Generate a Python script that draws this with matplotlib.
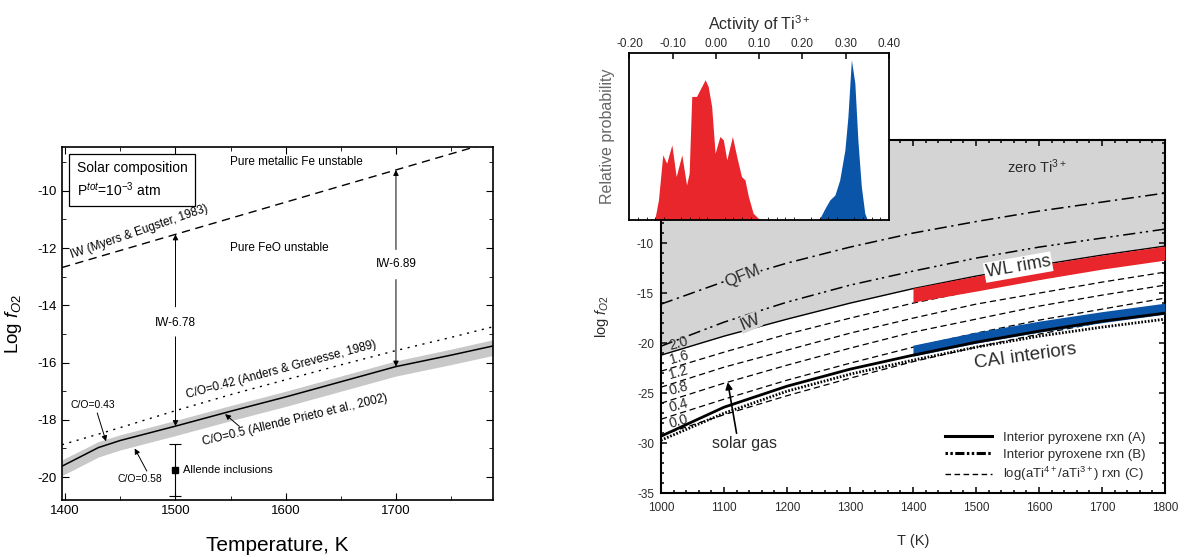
import numpy as np
import matplotlib
matplotlib.use("Agg")
import matplotlib.pyplot as plt
from matplotlib.lines import Line2D
from matplotlib.ticker import MultipleLocator, FixedLocator

plt.rcParams.update({
    "font.family": ["Liberation Sans", "DejaVu Sans"],
    "mathtext.fontset": "custom",
    "mathtext.rm": "Liberation Sans",
    "mathtext.it": "Liberation Sans:italic",
    "axes.linewidth": 1.2,
    "axes.unicode_minus": False,
})

# ---------------- left panel: solar gas fO2 vs T ----------------
T_left   = [1397, 1430, 1450, 1500, 1550, 1600, 1650, 1700, 1750, 1788]
co_050   = [-19.62, -18.97, -18.72, -18.22, -17.70, -17.20, -16.67, -16.14, -15.74, -15.42]
band_hi  = [-19.40, -18.76, -18.52, -18.02, -17.50, -17.00, -16.47, -15.94, -15.53, -15.20]
band_lo  = [-19.95, -19.30, -19.05, -18.55, -18.03, -17.53, -17.00, -16.47, -16.07, -15.75]
co_042   = [-18.87, -18.50, -18.27, -17.68, -17.12, -16.60, -16.08, -15.58, -15.12, -14.75]
iw_T     = [1397, 1788]
iw_myers = [-12.68, -8.28]
allende_T, allende_f, allende_lo, allende_hi = 1500, -19.75, -20.65, -18.85

# ---------------- right panel: Ti3+ oxybarometry ----------------
T_main  = [1000, 1100, 1200, 1300, 1400, 1500, 1600, 1700, 1800]
qfm     = [-16.1, -13.85, -12.0, -10.4, -9.0, -7.85, -6.8, -5.9, -5.0]
iw      = [-20.3, -17.9, -15.9, -14.2, -12.8, -11.5, -10.4, -9.5, -8.6]
rxn_A   = [-29.3, -26.4, -24.3, -22.6, -21.2, -19.9, -18.8, -17.8, -17.0]
rxn_B   = [-29.7, -27.0, -24.8, -23.1, -21.7, -20.4, -19.3, -18.4, -17.6]
c_vals  = ["2.0", "1.6", "1.2", "0.8", "0.4", "0.0"]
c_lines = [
    [-21.2, -19.3, -17.6, -16.0, -14.55, -13.3, -12.2, -11.2, -10.3],
    [-22.8, -20.9, -19.1, -17.5, -16.0, -14.7, -13.6, -12.5, -11.6],
    [-24.4, -22.4, -20.7, -19.0, -17.5, -16.1, -15.0, -13.9, -12.9],
    [-26.0, -24.0, -22.2, -20.5, -18.9, -17.6, -16.3, -15.2, -14.2],
    [-27.6, -25.6, -23.7, -22.0, -20.4, -19.0, -17.7, -16.6, -15.5],
    [-29.2, -27.15, -25.25, -23.5, -21.85, -20.4, -19.1, -17.9, -16.8],
]
c_label_f = [-20.0, -21.4, -22.9, -24.5, -26.2, -27.8]
band_T   = [1400, 1500, 1600, 1700, 1800]
wl_top   = [-14.5, -13.3, -12.2, -11.2, -10.3]
wl_bot   = [-15.9, -14.8, -13.65, -12.6, -11.7]
cai_top  = [-20.2, -18.9, -17.8, -16.85, -16.0]
cai_bot  = [-21.3, -20.0, -18.9, -17.95, -17.1]

# inset: activity of Ti3+
red_x = [-0.145, -0.141, -0.133, -0.123, -0.114, -0.102, -0.092, -0.079, -0.068, -0.062,
         -0.056, -0.045, -0.037, -0.025, -0.018, -0.010, -0.002, 0.009, 0.017, 0.025,
         0.038, 0.048, 0.059, 0.067, 0.075, 0.086, 0.098, 0.105]
red_y = [0.0, 0.01, 0.12, 0.39, 0.34, 0.45, 0.26, 0.39, 0.21, 0.28,
         0.74, 0.74, 0.78, 0.84, 0.80, 0.68, 0.40, 0.50, 0.48, 0.36,
         0.50, 0.38, 0.26, 0.24, 0.14, 0.04, 0.01, 0.0]
blue_x = [0.235, 0.240, 0.252, 0.263, 0.275, 0.286, 0.298, 0.305, 0.313, 0.321, 0.328, 0.336, 0.344, 0.350]
blue_y = [0.0, 0.01, 0.07, 0.12, 0.15, 0.24, 0.42, 0.62, 0.96, 0.82, 0.48, 0.20, 0.04, 0.0]

fig = plt.figure(figsize=(11.89, 5.55), dpi=100)

# =========================== left ===========================
ax = fig.add_axes([0.0521, 0.0991, 0.3625, 0.636])
ax.fill_between(T_left, band_lo, band_hi, color="#c8c8c8", lw=0, zorder=1)
ax.plot(T_left, co_050, color="k", lw=1.1, zorder=3)
ax.plot(T_left, co_042, color="k", lw=1.0, ls=(0, (1.5, 4)), zorder=3)
ax.plot(iw_T, iw_myers, color="k", lw=1.0, ls=(0, (6, 4)), zorder=3)
ax.errorbar([allende_T], [allende_f],
            yerr=[[allende_f - allende_lo], [allende_hi - allende_f]],
            fmt="s", color="k", ms=5, capsize=4, elinewidth=0.8, capthick=0.8)
ax.text(1507, allende_f, "Allende inclusions", fontsize=8, va="center")

ax.set_xlim(1397, 1788)
ax.set_ylim(-20.8, -8.47)
ax.xaxis.set_major_locator(FixedLocator([1400, 1500, 1600, 1700]))
ax.xaxis.set_minor_locator(MultipleLocator(50))
ax.yaxis.set_major_locator(MultipleLocator(2))
ax.yaxis.set_minor_locator(MultipleLocator(1))
ax.tick_params(which="both", direction="in", top=True, right=True, labelsize=9.5)
ax.tick_params(which="major", length=5)
ax.tick_params(which="minor", length=3)
ax.set_xlabel("Temperature, K", fontsize=15, labelpad=14)
ax.set_ylabel("Log $f_{O2}$", fontsize=13.5)
ax.yaxis.set_label_coords(-0.088, 0.5)

arw = dict(arrowstyle="-|>", lw=0.7, color="k", mutation_scale=8, shrinkA=0, shrinkB=0)
ax.text(1500, -14.6, "IW-6.78", fontsize=8.5, ha="center", va="center")
ax.annotate("", xy=(1500, -11.52), xytext=(1500, -14.05), arrowprops=arw)
ax.annotate("", xy=(1500, -18.22), xytext=(1500, -15.1), arrowprops=arw)
ax.text(1700, -12.57, "IW-6.89", fontsize=8.5, ha="center", va="center")
ax.annotate("", xy=(1700, -9.27), xytext=(1700, -12.05), arrowprops=arw)
ax.annotate("", xy=(1700, -16.14), xytext=(1700, -13.1), arrowprops=arw)

ax.text(1406, -12.34, "IW (Myers & Eugster, 1983)", fontsize=8.5, rotation=19,
        rotation_mode="anchor", ha="left", va="baseline")
ax.text(1511, -17.24, "C/O=0.42 (Anders & Grevesse, 1989)", fontsize=8.5, rotation=15,
        rotation_mode="anchor", ha="left", va="baseline")
ax.text(1525, -18.87, "C/O=0.5 (Allende Prieto et al., 2002)", fontsize=8.5, rotation=13.5,
        rotation_mode="anchor", ha="left", va="baseline")
ax.annotate("", xy=(1545, -17.8), xytext=(1558, -18.23), arrowprops=arw)
ax.text(1425, -17.48, "C/O=0.43", fontsize=7.5, ha="center", va="center")
ax.annotate("", xy=(1437, -18.75), xytext=(1429, -17.76), arrowprops=arw)
ax.text(1468, -20.06, "C/O=0.58", fontsize=7.5, ha="center", va="center")
ax.annotate("", xy=(1463, -19.0), xytext=(1474, -19.79), arrowprops=arw)

ax.text(1549, -9.0, "Pure metallic Fe unstable", fontsize=8.5, va="center")
ax.text(1549, -12.0, "Pure FeO unstable", fontsize=8.5, va="center")
ax.text(1410.5, -9.62, "Solar composition\nP$^{tot}$=10$^{-3}$ atm", fontsize=10, va="center",
        linespacing=1.3,
        bbox=dict(boxstyle="square,pad=0.55", fc="white", ec="k", lw=0.9))

# =========================== right main ===========================
tc = "#2b2b2b"
am = fig.add_axes([0.5559, 0.1112, 0.4239, 0.6365])
am.fill_between(T_main, c_lines[0], 1, color="#d4d4d4", lw=0, zorder=0)
am.plot(T_main, qfm, color="k", lw=1.1, ls=(0, (8, 3, 1.5, 3)), zorder=2)
am.plot(T_main, iw, color="k", lw=1.1, ls=(0, (8, 3, 1.5, 2.5, 1.5, 3)), zorder=2)
am.plot(T_main, c_lines[0], color="k", lw=1.0, zorder=2)
for vals in c_lines[1:]:
    am.plot(T_main, vals, color="k", lw=0.9, ls=(0, (5, 3)), zorder=2)
am.fill_between(band_T, wl_bot, wl_top, color="#e8262b", lw=0, zorder=3)
am.fill_between(band_T, cai_bot, cai_top, color="#0b55a8", lw=0, zorder=3)
am.plot(T_main, rxn_A, color="k", lw=2.0, zorder=4)
am.plot(T_main, rxn_B, color="k", lw=2.0, ls=(0, (0.6, 0.6)), zorder=4)

for v, f in zip(c_vals, c_label_f):
    am.text(1028, f, v, fontsize=10, color=tc, rotation=16, ha="center", va="center", zorder=5)
am.text(1129, -13.3, "QFM", fontsize=12, color=tc, rotation=22, ha="center", va="center",
        zorder=5, bbox=dict(fc="#d4d4d4", ec="none", pad=0.5))
am.text(1141, -17.9, "IW", fontsize=12, color=tc, rotation=22, ha="center", va="center",
        zorder=5, bbox=dict(fc="#d4d4d4", ec="none", pad=0.5))
am.text(1597, -2.4, "zero Ti$^{3+}$", fontsize=10.5, color=tc, ha="center", va="center")
am.text(1567, -12.4, "WL rims", fontsize=13, color=tc, rotation=10, ha="center", va="center",
        zorder=6, bbox=dict(fc="white", ec="none", pad=1))
am.text(1579, -21.3, "CAI interiors", fontsize=13.5, color=tc, rotation=8, ha="center",
        va="center", zorder=6)
am.text(1133, -30.0, "solar gas", fontsize=11.5, color=tc, ha="center", va="center")
am.annotate("", xy=(1106, -23.9), xytext=(1120, -29.0),
            arrowprops=dict(arrowstyle="-|>", lw=1.2, color="k", mutation_scale=10,
                            shrinkA=0, shrinkB=0), zorder=6)

am.set_xlim(1000, 1800)
am.set_ylim(-35, 0.3)
am.xaxis.set_major_locator(MultipleLocator(100))
am.xaxis.set_minor_locator(MultipleLocator(20))
am.yaxis.set_major_locator(FixedLocator([-10, -15, -20, -25, -30, -35]))
am.yaxis.set_minor_locator(MultipleLocator(1))
am.tick_params(which="both", direction="in", top=True, right=True, labelsize=8.5,
               colors="k", labelcolor=tc, width=1.1)
am.tick_params(which="major", length=4)
am.tick_params(which="minor", length=2.5)
am.tick_params(axis="x", pad=6)
am.tick_params(axis="y", pad=5)
am.set_xlabel("T (K)", fontsize=10.5, color=tc)
am.xaxis.set_label_coords(0.5, -0.115)
am.set_ylabel("log $f_{O2}$", fontsize=10.5, color=tc)
am.yaxis.set_label_coords(-0.1, 0.5)
for s in am.spines.values():
    s.set_linewidth(1.5)

handles = [
    Line2D([], [], color="k", lw=2.2),
    Line2D([], [], color="k", lw=2.2, ls=(0, (0.8, 0.8, 0.8, 0.8, 3, 0.8))),
    Line2D([], [], color="k", lw=1.0, ls=(0, (4, 2.5))),
]
labels = ["Interior pyroxene rxn (A)", "Interior pyroxene rxn (B)",
          "log(aTi$^{4+}$/aTi$^{3+}$) rxn (C)"]
leg = am.legend(handles, labels, loc="upper left", bbox_to_anchor=(0.553, 0.19),
                frameon=False, fontsize=9.5, handlelength=3.6, labelspacing=0.35,
                handletextpad=0.8, borderaxespad=0)
for t in leg.get_texts():
    t.set_color(tc)

# =========================== inset ===========================
ai = fig.add_axes([0.5294, 0.6036, 0.2183, 0.3009])
ai.set_facecolor("white")
ai.fill_between(red_x, 0, red_y, color="#e8262b", lw=0)
ai.fill_between(blue_x, 0, blue_y, color="#0b55a8", lw=0)
ai.set_xlim(-0.20, 0.40)
ai.set_ylim(0, 1.0)
ai.xaxis.set_minor_locator(MultipleLocator(0.02))
ai.set_xticks(np.arange(-0.2, 0.41, 0.1))
ai.set_xticklabels(["-0.20", "-0.10", "0.00", "0.10", "0.20", "0.30", "0.40"])
ai.xaxis.set_ticks_position("top")
ai.xaxis.set_label_position("top")
ai.tick_params(axis="x", which="major", direction="in", length=4, width=1.1,
               labelsize=8.5, labelcolor=tc, pad=2, top=True, bottom=False)
ai.tick_params(axis="x", which="minor", direction="in", length=2.5, top=False, bottom=True)
ai.set_yticks([])
ai.set_xlabel("Activity of Ti$^{3+}$", fontsize=11.5, color=tc, labelpad=6)
ai.set_ylabel("Relative probability", fontsize=11.5, color="#666666")
ai.yaxis.set_label_coords(-0.055, 0.5)
for s in ai.spines.values():
    s.set_linewidth(1.3)

fig.savefig("out.png", dpi=100)
